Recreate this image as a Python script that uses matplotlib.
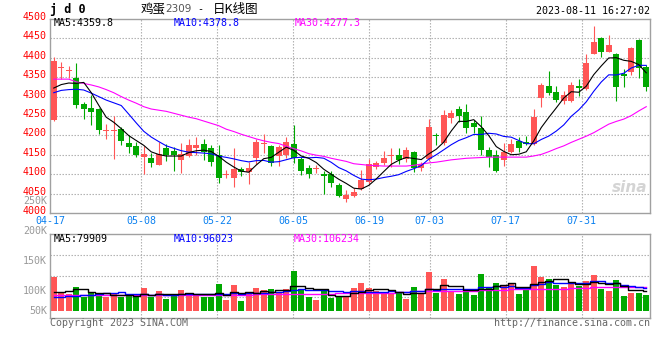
import numpy as np
import pandas as pd
import matplotlib.pyplot as plt
from matplotlib.transforms import offset_copy

# ---- data (jd0, 鸡蛋2309) ----
date_labels = ['04-17', '05-08', '05-22', '06-05', '06-19', '07-03', '07-17', '07-31']
date_idx = [0, 12, 22, 32, 42, 50, 60, 70]

opens = [4240, 4374, 4366, 4348, 4281, 4271, 4268, 4212, 4212, 4216,
         4180, 4173, 4145, 4142, 4124, 4168, 4160, 4137, 4147, 4168,
         4178, 4168, 4150, 4097, 4089, 4113, 4105, 4143, 4179, 4173,
         4147, 4150, 4178, 4138, 4117, 4114, 4100, 4100, 4072, 4036,
         4044, 4062, 4081, 4119, 4128, 4146, 4150, 4139, 4156, 4115,
         4138, 4200, 4180, 4246, 4267, 4261, 4231, 4220, 4162, 4150,
         4137, 4158, 4186, 4184, 4177, 4297, 4327, 4311, 4289, 4289,
         4327, 4320, 4411, 4450, 4416, 4411, 4357, 4364, 4446, 4375]
highs = [4402, 4388, 4380, 4387, 4287, 4304, 4270, 4229, 4250, 4222,
         4201, 4184, 4173, 4155, 4184, 4178, 4170, 4180, 4191, 4197,
         4191, 4175, 4175, 4112, 4168, 4119, 4132, 4192, 4204, 4175,
         4175, 4197, 4227, 4145, 4124, 4124, 4109, 4109, 4078, 4058,
         4064, 4111, 4139, 4135, 4160, 4167, 4168, 4171, 4160, 4132,
         4242, 4205, 4266, 4266, 4276, 4281, 4240, 4250, 4169, 4162,
         4180, 4191, 4197, 4199, 4268, 4334, 4366, 4327, 4314, 4338,
         4345, 4409, 4482, 4453, 4459, 4413, 4371, 4429, 4448, 4381]
lows = [4236, 4345, 4347, 4270, 4242, 4227, 4204, 4190, 4139, 4175,
        4155, 4144, 4100, 4119, 4124, 4135, 4109, 4104, 4145, 4150,
        4137, 4121, 4078, 4091, 4068, 4096, 4075, 4126, 4154, 4121,
        4122, 4143, 4128, 4098, 4089, 4102, 4049, 4068, 4040, 4029,
        4040, 4059, 4076, 4113, 4124, 4119, 4126, 4132, 4105, 4109,
        4135, 4175, 4175, 4231, 4235, 4207, 4207, 4150, 4119, 4105,
        4122, 4154, 4158, 4175, 4175, 4274, 4304, 4285, 4280, 4285,
        4302, 4317, 4409, 4401, 4414, 4289, 4326, 4356, 4347, 4315]
closes = [4392, 4376, 4368, 4279, 4268, 4260, 4213, 4214, 4214, 4186,
          4170, 4150, 4152, 4130, 4152, 4150, 4150, 4152, 4175, 4175,
          4158, 4132, 4091, 4099, 4113, 4105, 4117, 4184, 4181, 4130,
          4171, 4182, 4143, 4109, 4100, 4116, 4096, 4078, 4045, 4046,
          4055, 4085, 4125, 4128, 4141, 4148, 4137, 4162, 4115, 4126,
          4221, 4198, 4253, 4259, 4250, 4220, 4221, 4162, 4145, 4108,
          4158, 4178, 4168, 4177, 4248, 4330, 4308, 4291, 4304, 4330,
          4323, 4386, 4440, 4416, 4433, 4326, 4353, 4426, 4375, 4326]

# moving averages: first points come from days before the window
ma5_head = [4322, 4331, 4335, 4334]
ma10_head = [4310, 4316, 4318, 4319, 4317, 4309, 4300, 4291, 4284]
ma30 = [4345, 4345, 4345, 4338, 4334, 4330, 4325, 4318, 4310, 4300,
        4291, 4283, 4274, 4268, 4265, 4262, 4257, 4252, 4247, 4243,
        4237, 4231, 4225, 4216, 4210, 4203, 4197, 4191, 4186, 4182,
        4179, 4172, 4166, 4160, 4153, 4149, 4146, 4141, 4137, 4133,
        4127, 4125, 4123, 4122, 4121, 4121, 4121, 4121, 4123, 4126,
        4129, 4131, 4134, 4137, 4139, 4141, 4142, 4143, 4144, 4144,
        4144, 4144, 4144, 4144, 4147, 4151, 4158, 4166, 4173, 4182,
        4190, 4198, 4207, 4218, 4229, 4236, 4242, 4251, 4263, 4274]

# volume in thousands of lots
volumes = [123.3, 98.3, 95.0, 106.7, 90.6, 98.3, 96.7, 90.0, 95.0, 90.0,
           92.2, 90.0, 105.0, 90.6, 100.0, 86.7, 95.0, 101.7, 96.7, 92.2,
           90.6, 90.6, 111.7, 85.0, 110.0, 83.3, 98.3, 105.0, 101.7, 103.3,
           96.7, 103.3, 133.3, 101.7, 90.0, 85.0, 103.3, 88.3, 91.7, 92.0,
           105.6, 113.9, 105.6, 100.6, 95.0, 96.0, 96.0, 86.7, 106.7, 96.0,
           132.2, 97.2, 120.0, 100.0, 95.0, 98.6, 93.3, 128.3, 104.4, 113.6,
           108.3, 113.6, 95.0, 102.3, 142.0, 123.6, 120.0, 110.0, 107.0, 114.5,
           108.6, 116.7, 126.7, 103.3, 100.0, 118.3, 92.0, 97.0, 97.0, 93.3]
vma5_head = [97.8, 98.9, 100.6, 103.3]
vma10_head = [89.4, 89.4, 91.0, 91.0, 93.0, 94.0, 95.0, 96.0, 97.0]
vma30 = [92.8, 92.8, 92.8, 92.8, 92.8, 92.8, 92.8, 92.8, 92.8, 92.8,
         92.8, 92.8, 92.8, 92.8, 92.8, 92.8, 92.8, 92.8, 92.8, 92.8,
         92.8, 93.3, 93.3, 93.3, 93.3, 93.3, 94.0, 95.0, 95.0, 95.0,
         95.0, 95.8, 95.8, 95.8, 95.8, 95.8, 95.8, 95.8, 96.0, 96.0,
         96.5, 97.0, 97.2, 97.2, 97.2, 97.2, 98.0, 99.0, 100.3, 100.3,
         100.3, 100.3, 100.6, 100.6, 100.6, 100.6, 100.6, 101.7, 101.7, 101.7,
         101.7, 102.8, 102.8, 102.8, 102.8, 102.8, 102.8, 103.5, 104.0, 104.5,
         105.0, 105.5, 106.0, 106.0, 106.0, 106.0, 106.0, 106.0, 106.0, 106.0]
vol_labels = [250, 200, 150, 100, 50]

# ---- colours / fonts ----
RED = '#ff5656'
GREEN = '#00a800'
GRID = '#b0b0b0'
FRAME = '#a0a0a0'
MONO = 'DejaVu Sans Mono'
CJK = ['Noto Sans CJK SC', 'DejaVu Sans']
FS = 7.2

W, H = 660, 360
fig = plt.figure(figsize=(W / 100, H / 100), dpi=100)
fig.patch.set_facecolor('white')


def fx(px):
    return px / W


def fy(py):
    return 1 - py / H


ax = fig.add_axes([fx(50), fy(213), 600 / W, 194 / H])
axv = fig.add_axes([fx(50), fy(318), 600 / W, 84 / H])

x = np.arange(len(closes))
o = np.array(opens)
c = np.array(closes)
up = c >= o
colors = np.where(up, RED, GREEN)

ma5 = pd.Series(closes).rolling(5).mean().values
ma5[:len(ma5_head)] = ma5_head
ma10 = pd.Series(closes).rolling(10).mean().values
ma10[:len(ma10_head)] = ma10_head

vol = np.array(volumes)
vma5 = pd.Series(volumes).rolling(5).mean().values
vma5[:len(vma5_head)] = vma5_head
vma10 = pd.Series(volumes).rolling(10).mean().values
vma10[:len(vma10_head)] = vma10_head

dots = (0, (1.3, 1.4))
grid_x = [-0.5 + i * len(x) / (len(x) - 1) for i in date_idx]

# ---- price panel ----
ax.set_xlim(-0.5, len(x) - 0.5)
ax.set_ylim(4000, 4500)
for v in range(4050, 4500, 50):
    ax.axhline(v, color=GRID, lw=0.8, ls=dots, zorder=0)
for gx in grid_x[1:]:
    ax.axvline(gx, color=GRID, lw=0.8, ls=dots, zorder=0)

ax.vlines(x, lows, highs, colors=colors, lw=0.8, zorder=2)
body = np.maximum(np.abs(c - o), 2.6)
ax.bar(x, body, bottom=np.minimum(o, c), width=0.8, color=colors, lw=0, zorder=3)

ax.plot(x, ma30, color='#ff00ff', lw=0.8, zorder=4)
ax.plot(x, ma10, color='#0000ff', lw=0.8, zorder=4)
ax.plot(x, ma5, color='black', lw=0.8, zorder=4)

ylab_tr = offset_copy(ax.get_yaxis_transform(), fig=fig, x=-3, y=2, units='dots')
for v in range(4000, 4501, 50):
    ax.text(0, v, str(v), transform=ylab_tr, ha='right', va='center',
            color='#ff0000', family=MONO, fontsize=FS)

date_tr = offset_copy(ax.get_xaxis_transform(), fig=fig, x=0, y=-8, units='dots')
for gx, lab in zip(grid_x, date_labels):
    ax.text(gx, 0, lab, transform=date_tr, ha='center', va='center',
            color='#0a80f0', family=MONO, fontsize=FS, clip_on=False)

# ---- volume panel ----
vlo, vhi = 55, 195
vol_floor = 66.7
axv.set_xlim(-0.5, len(x) - 0.5)
axv.set_ylim(vlo, vhi)
for f in (0.25, 0.5, 0.75):
    axv.axhline(vlo + (vhi - vlo) * f, color=GRID, lw=0.8, ls=dots, zorder=0)
for gx in grid_x[1:]:
    axv.axvline(gx, color=GRID, lw=0.8, ls=dots, zorder=0)

axv.bar(x, vol - vol_floor, bottom=vol_floor, width=0.8, color=colors, lw=0, zorder=2)
axv.plot(x, vma30, color='#ff00ff', lw=1.0, drawstyle='steps-mid', zorder=3)
axv.plot(x, vma10, color='#0000ff', lw=1.0, drawstyle='steps-mid', zorder=3)
axv.plot(x, vma5, color='black', lw=1.0, drawstyle='steps-mid', zorder=3)

vlab_tr = offset_copy(axv.get_yaxis_transform(), fig=fig, x=-3, y=0, units='dots')
for v in vol_labels:
    axv.text(0, max(v, vol_floor), f'{v}K', transform=vlab_tr, ha='right', va='center',
             color='#999999', family=MONO, fontsize=FS, clip_on=False)

for a in (ax, axv):
    a.set_xticks([])
    a.set_yticks([])
    for s in a.spines.values():
        s.set_color(FRAME)
        s.set_linewidth(1.0)

# ---- header / footer text ----
fig.text(fx(50), fy(10), 'j d 0', family=MONO, weight='bold', fontsize=8.5,
         ha='left', va='center')
fig.text(fx(141), fy(9.5), '鸡蛋', family=CJK, fontsize=9, ha='left', va='center')
fig.text(fx(165), fy(9.5), '2309', family='DejaVu Sans', fontsize=7.5, color='#555555',
         ha='left', va='center')
fig.text(fx(200), fy(9.5), '-', family=MONO, fontsize=FS, ha='center', va='center')
fig.text(fx(213), fy(9.5), '日K线图', family=CJK, fontsize=9, ha='left', va='center')
fig.text(fx(650), fy(11.5), '2023-08-11 16:27:02', family=MONO, fontsize=FS,
         ha='right', va='center')

fig.text(fx(54), fy(23.5), 'MA5:4359.8', family=MONO, fontsize=FS, color='black', va='center')
fig.text(fx(174), fy(23.5), 'MA10:4378.8', family=MONO, fontsize=FS, color='#0000ff', va='center')
fig.text(fx(295), fy(23.5), 'MA30:4277.3', family=MONO, fontsize=FS, color='#ff00ff', va='center')

fig.text(fx(54), fy(238.5), 'MA5:79909', family=MONO, fontsize=FS, color='black', va='center')
fig.text(fx(174), fy(238.5), 'MA10:96023', family=MONO, fontsize=FS, color='#0000ff', va='center')
fig.text(fx(294), fy(238.5), 'MA30:106234', family=MONO, fontsize=FS, color='#ff00ff', va='center')

fig.text(fx(50), fy(323), 'Copyright 2023 SINA.COM', family=MONO, fontsize=FS,
         color='#666666', ha='left', va='center')
fig.text(fx(650), fy(323), 'http://finance.sina.com.cn', family=MONO, fontsize=FS,
         color='#666666', ha='right', va='center')

# faint sina watermark
fig.text(fx(630), fy(188), 'sina', family='DejaVu Sans', fontsize=11, weight='bold',
         style='italic', color='#d4d4d4', ha='center', va='center')

fig.savefig('out.png', dpi=100)
